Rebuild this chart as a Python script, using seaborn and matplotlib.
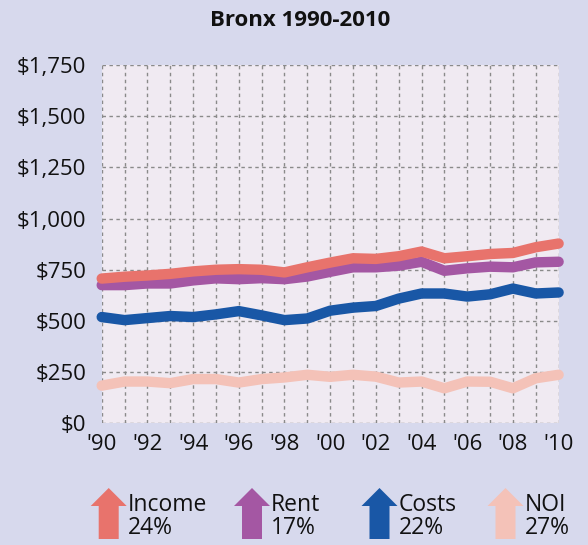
import numpy as np
import pandas as pd
import matplotlib
matplotlib.use("Agg")
import matplotlib.pyplot as plt
from matplotlib.patches import FancyArrow
import seaborn as sns

# values (dollars)
years = list(range(1990, 2011))
income = [707, 716, 722, 730, 742, 750, 753, 750, 737, 762, 785,
          806, 803, 816, 839, 806, 816, 827, 832, 860, 878]
rent = [675, 675, 683, 683, 698, 708, 704, 709, 704, 717, 740,
        762, 762, 770, 789, 745, 757, 765, 762, 786, 789]
costs = [519, 504, 514, 524, 519, 532, 548, 527, 504, 512, 550,
         565, 573, 609, 634, 634, 619, 630, 658, 634, 639]
noi = [184, 204, 204, 196, 216, 216, 199, 216, 224, 237, 227,
       237, 228, 199, 204, 171, 204, 203, 171, 220, 237]

series_names = ["Income", "Rent", "Costs", "NOI"]
pct_change = ["24%", "17%", "22%", "27%"]
colors = {"Income": "#E8736C", "Rent": "#A457A3",
          "Costs": "#1957A6", "NOI": "#F4C2B8"}

y_ticks = [0, 250, 500, 750, 1000, 1250, 1500, 1750]

df = pd.DataFrame({"year": years, "Income": income, "Rent": rent,
                   "Costs": costs, "NOI": noi})
long_df = df.melt(id_vars="year", var_name="series", value_name="value")

sns.set_theme(style="white")
plt.rcParams["font.family"] = ["Open Sans", "DejaVu Sans"]

bg = "#D7D9ED"
fig = plt.figure(figsize=(5.88, 5.45), dpi=100, facecolor=bg)
ax = fig.add_axes([0.173, 0.2233, 0.777, 0.6574])
ax.set_facecolor("#F0EAF2")

# draw Rent under Income, as in the original
draw_order = ["NOI", "Costs", "Rent", "Income"]
for name in draw_order:
    sns.lineplot(data=long_df[long_df["series"] == name], x="year", y="value",
                 color=colors[name], linewidth=7.5, ax=ax, legend=False,
                 solid_capstyle="round", solid_joinstyle="round",
                 clip_on=False, zorder=3)

ax.set_xlim(1990, 2010)
ax.set_ylim(0, 1750)
ax.set_xticks(years)
ax.set_xticklabels(["'" + str(y)[2:] if y % 2 == 0 else "" for y in years])
ax.set_yticks(y_ticks)
ax.set_yticklabels([f"${v:,}" for v in y_ticks])
ax.tick_params(axis="both", length=0, labelsize=16, colors="#111111")
ax.tick_params(axis="y", pad=11)
ax.tick_params(axis="x", pad=8)
ax.set_xlabel("")
ax.set_ylabel("")
ax.grid(True, color="#8A8A8A", linestyle=(0, (2.5, 2.5)), linewidth=1.0)
ax.set_axisbelow(True)
for sp in ax.spines.values():
    sp.set_visible(False)

fig.text(0.51, 0.962, "Bronx 1990-2010", ha="center", va="center",
         fontsize=16, fontweight="bold", color="#111111")

# arrow legend along the bottom
leg = fig.add_axes([0, 0, 1, 75 / 545])
leg.set_xlim(0, 588)
leg.set_ylim(545, 470)
leg.axis("off")
arrow_x = [108.7, 252, 379.5, 505.5]
for i, name in enumerate(series_names):
    x0 = arrow_x[i]
    leg.add_patch(FancyArrow(x0, 539, 0, -51, width=20, head_width=36,
                             head_length=18, length_includes_head=True,
                             color=colors[name], linewidth=0))
    leg.text(x0 + 19, 505, name, ha="left", va="center", fontsize=16.5,
             color="#111111")
    leg.text(x0 + 19, 528, pct_change[i], ha="left", va="center",
             fontsize=16.5, color="#111111")

fig.savefig("out.png", dpi=100, facecolor=bg)
